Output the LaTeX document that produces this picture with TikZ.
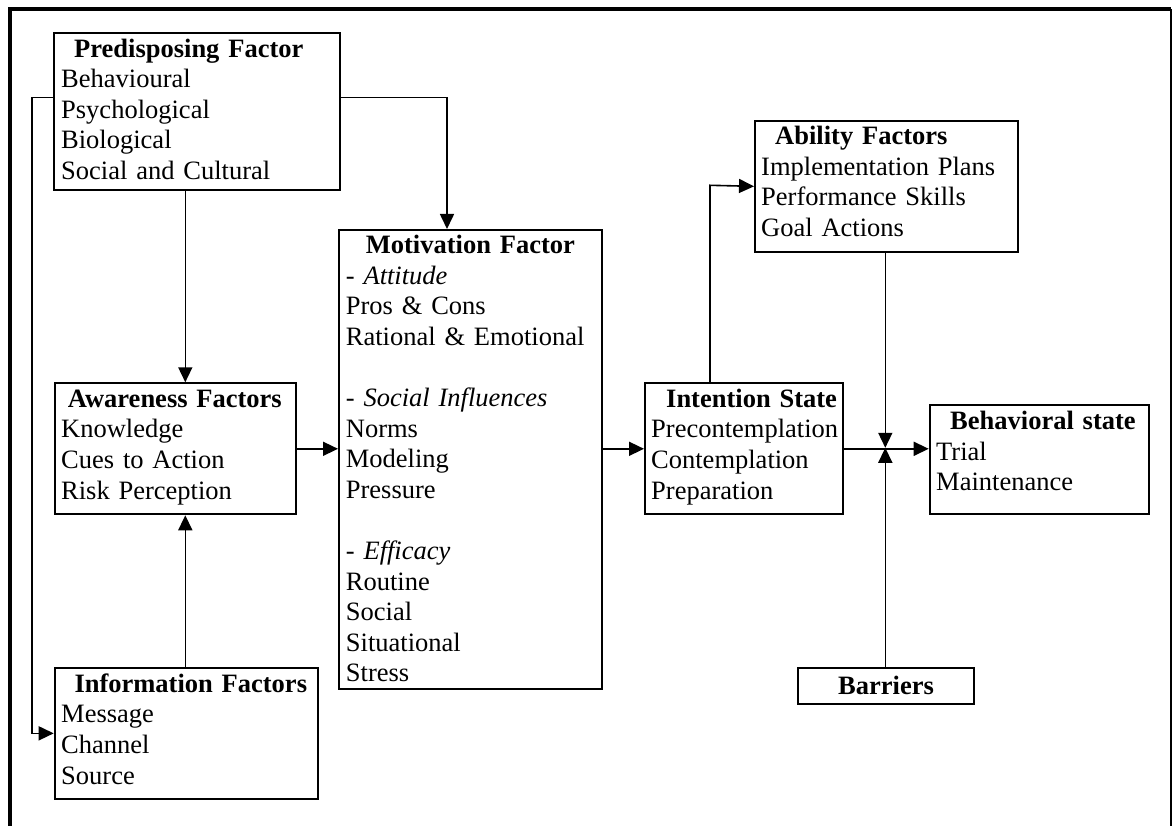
\documentclass[tikz,border=0pt]{standalone}
\usepackage{fontspec}
\setmainfont{Liberation Serif}
\usetikzlibrary{arrows.meta}
\newcommand{\fl}{\rule{0pt}{22pt}}
\begin{document}
\begin{tikzpicture}[x=1pt,y=-1pt,
 box/.style={draw, line width=2pt, inner sep=0pt, anchor=north west},
 txt/.style={anchor=north west, inner sep=0pt, text width=330pt, align=left, font={\fontsize{26.5}{30.6}\selectfont}},
 arr/.style={line width=1.6pt, -{Triangle[length=15pt,width=14pt]}},
 frame/.style={line width=3.5pt}]
\useasboundingbox (0,0) rectangle (1173,826);
% outer frame (no bottom edge)
\draw[frame] (10,826) -- (10,9) -- (1171,9);
\draw[line width=2.5pt] (1171,9) -- (1171,826);

% boxes
\node[box, minimum width=286pt, minimum height=157pt] (pre) at (53,32) {};
\node[box, minimum width=241pt, minimum height=131pt] (aw) at (53.7,382.3) {};
\node[box, minimum width=263pt, minimum height=131.3pt] (info) at (53.7,666.7) {};
\node[box, minimum width=263pt, minimum height=459.3pt] (mot) at (338,229) {};
\node[box, minimum width=197.7pt, minimum height=131pt] (int) at (644,382.3) {};
\node[box, minimum width=262.7pt, minimum height=130.7pt] (abil) at (754,120) {};
\node[box, minimum width=219.3pt, minimum height=109pt] (beh) at (928.7,404.3) {};
\node[box, minimum width=176pt, minimum height=36pt, font={\fontsize{26.5}{30.6}\selectfont\bfseries}] (bar) at (797,666.7) {Barriers};

% texts
\node[txt] (pretxt) at (61,35) {\fl\hspace*{13pt}\textbf{Predisposing Factor}\\Behavioural\\Psychological\\Biological\\Social and Cultural};
\node[txt] (awtxt) at (61,385) {\fl\hspace*{6.7pt}\textbf{Awareness Factors}\\Knowledge\\Cues to Action\\Risk Perception};
\node[txt] (infotxt) at (61,670) {\fl\hspace*{13.3pt}\textbf{Information Factors}\\Message\\Channel\\Source};
\node[txt] (mottxt) at (345.7,231.3) {\fl\hspace*{20pt}\textbf{Motivation Factor}\\- \textit{Attitude}\\Pros \& Cons\\Rational \& Emotional\\\mbox{}\\- \textit{Social Influences}\\Norms\\Modeling\\Pressure\\\mbox{}\\- \textit{Efficacy}\\Routine\\Social\\Situational\\Stress};
\node[txt] (inttxt) at (651,385) {\fl\hspace*{15pt}\textbf{Intention State}\\Precontemplation\\Contemplation\\Preparation};
\node[txt] (abiltxt) at (761,122.3) {\fl\hspace*{14pt}\textbf{Ability Factors}\\Implementation Plans\\Performance Skills\\Goal Actions};
\node[txt] (behtxt) at (936,407.3) {\fl\hspace*{14pt}\textbf{Behavioral state}\\Trial\\Maintenance};

% connector helper coordinates
\coordinate (j1) at (32,97.7);
\coordinate (j2) at (447,97.7);
\coordinate (c3) at (185.3,0);
\coordinate (j7) at (710,185.3);
\coordinate (jx) at (885.3,447.8);

% connectors
\draw[arr] (pre.west |- j1) -- (j1) -- (j1 |- info.west) -- (info.west);
\draw[arr] (pre.east |- j2) -- (j2) -- (j2 |- mot.north);
\draw[arr] (pre.south -| c3) -- (aw.north -| c3);
\draw[arr] (info.north -| c3) -- (aw.south -| c3);
\draw[arr] (aw.east) -- (aw.east -| mot.west);
\draw[arr] (mot.east |- int.west) -- (int.west);
\draw[arr] (int.north -| j7) -- (j7) -- (abil.west);
\draw[arr] (int.east) -- (beh.west |- int.east);
\draw[arr] (abil.south -| jx) -- (jx);
\draw[arr] (bar.north -| jx) -- (jx);
\end{tikzpicture}
\end{document}
